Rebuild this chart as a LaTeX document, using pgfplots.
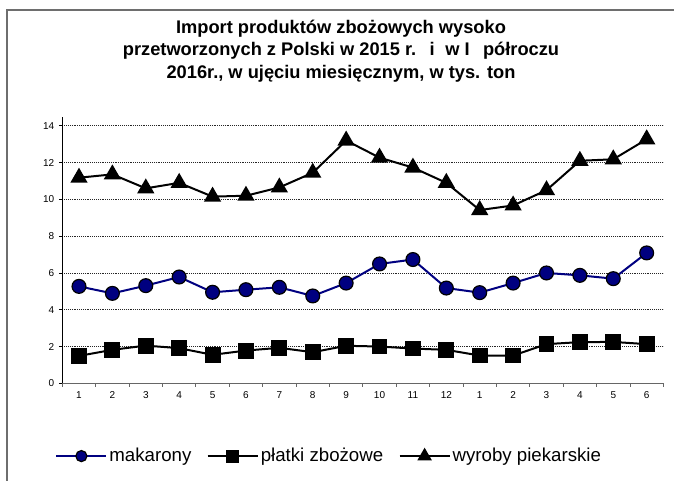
\documentclass[border=0pt]{standalone}
\usepackage{pgfplots}
\pgfplotsset{compat=1.18}
\usepackage{fontspec}
\setmainfont{Liberation Sans}
\definecolor{navy}{RGB}{0,0,128}
\definecolor{framegray}{RGB}{110,110,110}
\begin{document}
\begin{tikzpicture}[x=0.75pt,y=0.75pt]
\useasboundingbox (0,0) rectangle (674,480);
\draw[framegray, line width=0.9pt] (7,-5) -- (7,470) -- (680,470);
\node[align=center, font=\fontsize{13.7}{16.8}\selectfont\bfseries] at (341,429)
  {Import produktów zbożowych wysoko\\przetworzonych z Polski w 2015 r.\hspace{10pt}i\hspace{8pt}w I\hspace{10pt}półroczu\\2016r., w ujęciu miesięcznym, w tys. ton};
\begin{axis}[
  at={(46.725pt,72.525pt)}, anchor=south west,
  scale only axis, width=450.8pt, height=200pt,
  xmin=0.5, xmax=18.5, ymin=0, ymax=14.5,
  axis x line*=bottom, axis y line*=left,
  axis line style={line width=0.9pt, -},
  x axis line style={black!60},
  xtick={1,...,18},
  xticklabels={1,2,3,4,5,6,7,8,9,10,11,12,1,2,3,4,5,6},
  minor xtick={0.5,1.5,...,18.5},
  major x tick style={draw=none},
  minor tick length=2.5pt,
  minor x tick style={black!60, line width=0.6pt},
  ytick={0,2,...,14},
  major tick length=2.5pt,
  tick align=outside,
  y tick style={black, line width=0.6pt},
  ymajorgrids,
  major grid style={densely dotted, black!85, line width=0.6pt},
  tick label style={font=\fontsize{7.5}{9}\selectfont},
  /pgf/number format/assume math mode=true,
  clip=false,
  legend columns=3,
  legend style={at={(-0.012,-0.273)}, anchor=west, draw=none, fill=none, inner sep=0pt,
    font=\fontsize{14}{16}\selectfont,
    /tikz/every even column/.style={column sep=10pt},
    nodes={inner sep=1.5pt}},
  legend image code/.code={
    \draw[#1, every mark/.append style={scale=0.8}, mark repeat=2, mark phase=2]
      plot coordinates {(0cm,0cm) (0.66cm,0cm) (1.32cm,0cm)};},
]
\addplot[navy, line width=1.5pt, mark=*, mark size=5.2pt, mark options={fill=navy, draw=black, line width=0.9pt}]
coordinates {(1,5.27)(2,4.89)(3,5.31)(4,5.78)(5,4.95)(6,5.09)(7,5.22)(8,4.75)(9,5.45)(10,6.49)(11,6.73)(12,5.18)(13,4.93)(14,5.45)(15,6.0)(16,5.87)(17,5.69)(18,7.09)};
\addlegendentry{makarony}
\addplot[black, line width=1.5pt, mark=square*, mark size=5.2pt, mark options={fill=black, draw=black}]
coordinates {(1,1.49)(2,1.82)(3,2.05)(4,1.91)(5,1.55)(6,1.78)(7,1.93)(8,1.69)(9,2.04)(10,2.0)(11,1.89)(12,1.82)(13,1.51)(14,1.51)(15,2.13)(16,2.24)(17,2.25)(18,2.13)};
\addlegendentry{płatki zbożowe}
\addplot[black, line width=1.5pt, mark=triangle*, mark size=6pt, mark options={fill=black, draw=black}]
coordinates {(1,11.18)(2,11.36)(3,10.6)(4,10.9)(5,10.15)(6,10.2)(7,10.65)(8,11.45)(9,13.2)(10,12.27)(11,11.73)(12,10.9)(13,9.42)(14,9.67)(15,10.5)(16,12.1)(17,12.18)(18,13.27)};
\addlegendentry{wyroby piekarskie}
\end{axis}
\end{tikzpicture}
\end{document}
